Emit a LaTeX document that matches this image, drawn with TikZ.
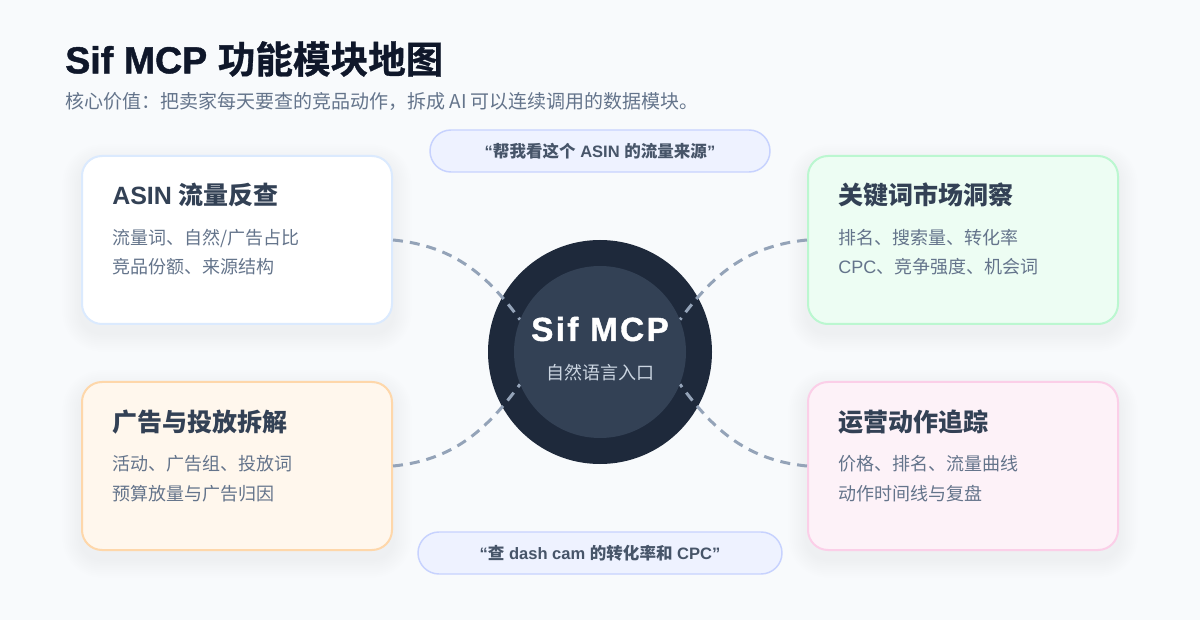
\documentclass[tikz,border=0pt]{standalone}
\usepackage{fontspec}
\setmainfont{Liberation Sans}
\newfontfamily\cjk{Noto Sans CJK SC}
\newfontfamily\heavy{Liberation Sans Bold}[FakeBold=1.2]
\newfontfamily\cjkheavy{Noto Sans CJK SC Bold}[FakeBold=0.8]
\pgfdeclarelayer{bgl}
\pgfdeclarelayer{fg}
\pgfsetlayers{bgl,main,fg}
\definecolor{bgc}{HTML}{F8FAFC}
\definecolor{titlec}{HTML}{0F172A}
\definecolor{subc}{HTML}{64748B}
\definecolor{headc}{HTML}{334155}
\definecolor{bodyc}{HTML}{64748B}
\definecolor{b1line}{HTML}{DBEAFE}
\definecolor{b2fill}{HTML}{EDFDF3}
\definecolor{b2line}{HTML}{BBF7D0}
\definecolor{b3fill}{HTML}{FFF7ED}
\definecolor{b3line}{HTML}{FED7AA}
\definecolor{b4fill}{HTML}{FDF2F8}
\definecolor{b4line}{HTML}{FBCFE8}
\definecolor{pillfill}{HTML}{EEF2FF}
\definecolor{pillline}{HTML}{C7D2FE}
\definecolor{pilltext}{HTML}{475569}
\definecolor{hubouter}{HTML}{1E293B}
\definecolor{hubinner}{HTML}{334155}
\definecolor{hubsub}{HTML}{CBD5E1}
\definecolor{dashc}{HTML}{94A3B8}
\definecolor{shadowc}{HTML}{0F172A}
\begin{document}
\begin{tikzpicture}[x=0.75pt,y=-0.75pt,
  card/.style n args={2}{draw=#1, fill=#2, line width=1.5pt, rounded corners=15pt,
    minimum width=232.5pt, minimum height=126pt, inner sep=0pt},
  pill/.style={draw=pillline, fill=pillfill, line width=1.1pt, rounded corners=15.75pt,
    minimum height=31.5pt, inner sep=0pt, text=pilltext, font=\bfseries\fontsize{12.4pt}{14pt}\selectfont},
  cardhead/.style={anchor=west, inner sep=0pt, text=headc, font=\bfseries\fontsize{18.75pt}{22pt}\selectfont},
  cardbody/.style={anchor=west, inner sep=0pt, text=bodyc, font=\cjk\fontsize{13.5pt}{16pt}\selectfont},
  link/.style={draw=dashc, line width=2.25pt, dash pattern=on 7.5pt off 5.25pt}
]
\begin{pgfonlayer}{bgl}
\fill[bgc] (0,0) rectangle (1200,620);
\end{pgfonlayer}
\useasboundingbox (0,0) rectangle (1200,620);

% title
\node[anchor=west, inner sep=0pt, text=titlec, font=\fontsize{28.2pt}{32pt}\selectfont] (title) at (65,59) {{\heavy Sif MCP} {\cjkheavy 功能模块地图}};
\node[anchor=west, inner sep=0pt, text=subc, font=\cjk\fontsize{14.25pt}{17pt}\selectfont] (subtitle) at (65,101) {核心价值：把卖家每天要查的竞品动作，拆成 AI 可以连续调用的数据模块。};

% cards
\node[card={b1line}{white}] (c1) at (237,240) {};
\node[card={b2line}{b2fill}] (c2) at (963,240) {};
\node[card={b3line}{b3fill}] (c3) at (237,466) {};
\node[card={b4line}{b4fill}] (c4) at (963,466) {};

% soft shadows under the cards
\begin{pgfonlayer}{bgl}
\foreach \c in {c1,c2,c3,c4}{
  \foreach \i in {1,...,10}{
    \fill[shadowc, opacity=0.005, rounded corners={15pt+\i*1.4pt}]
      ([xshift={-\i*1.4pt}, yshift={-6pt+\i*1.4pt}]\c.north west) rectangle
      ([xshift={\i*1.4pt}, yshift={-6pt-\i*1.4pt}]\c.south east);
  }
}
\end{pgfonlayer}

\node[cardhead] (h1) at (112,195) {ASIN {\cjk 流量反查}};
\node[cardbody] (t1a) at (112,238) {流量词、自然/广告占比};
\node[cardbody] (t1b) at (112,267) {竞品份额、来源结构};

\node[cardhead] (h2) at (838,195) {\cjk 关键词市场洞察};
\node[cardbody] (t2a) at (838,238) {排名、搜索量、转化率};
\node[cardbody] (t2b) at (838,267) {{\normalfont CPC}、竞争强度、机会词};

\node[cardhead] (h3) at (112,422) {\cjk 广告与投放拆解};
\node[cardbody] (t3a) at (112,464) {活动、广告组、投放词};
\node[cardbody] (t3b) at (112,494) {预算放量与广告归因};

\node[cardhead] (h4) at (838,422) {\cjk 运营动作追踪};
\node[cardbody] (t4a) at (838,464) {价格、排名、流量曲线};
\node[cardbody] (t4b) at (838,494) {动作时间线与复盘};

% pills
\node[pill, minimum width=255pt] (p1) at (600,151) {“{\cjk 帮我看这个} ASIN {\cjk 的流量来源}”};
\node[pill, minimum width=273pt] (p2) at (600,553) {“{\cjk 查} dash cam {\cjk 的转化率和} CPC”};

% hub
\node[circle, fill=hubouter, minimum size=168pt, inner sep=0pt] (hub) at (600,352) {};
\begin{pgfonlayer}{fg}
\node[circle, fill=hubinner, minimum size=129pt, inner sep=0pt] (core) at (600,352) {};
\node[inner sep=0pt, text=white, font=\heavy\fontsize{25pt}{28pt}\selectfont\addfontfeature{LetterSpace=7}] (hubname) at (600,329) {Sif MCP};
\node[inner sep=0pt, text=hubsub, font=\cjk\fontsize{13.5pt}{16pt}\selectfont] (hubsubt) at (600,373) {自然语言入口};
\end{pgfonlayer}

% connectors
\draw[link] (c1.east) .. controls +(63,6) and +(-31,-42) .. (core.158);
\draw[link] (c3.east) .. controls +(63,-6) and +(-31,42) .. (core.202);
\draw[link] (c2.west) .. controls +(-63,6) and +(31,-42) .. (core.22);
\draw[link] (c4.west) .. controls +(-63,-6) and +(31,42) .. (core.338);
\end{tikzpicture}
\end{document}
